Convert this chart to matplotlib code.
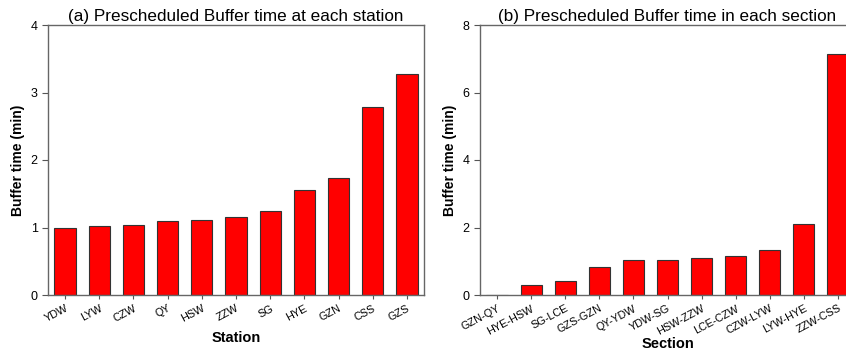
import matplotlib.pyplot as plt
import numpy as np

plt.rcParams['font.family'] = ['Liberation Sans', 'DejaVu Sans']

stations = ['YDW', 'LYW', 'CZW', 'QY', 'HSW', 'ZZW', 'SG', 'HYE', 'GZN', 'CSS', 'GZS']
station_buf = [1.00, 1.02, 1.03, 1.10, 1.11, 1.15, 1.24, 1.56, 1.74, 2.79, 3.27]

sections = ['GZN-QY', 'HYE-HSW', 'SG-LCE', 'GZS-GZN', 'QY-YDW', 'YDW-SG',
            'HSW-ZZW', 'LCE-CZW', 'CZW-LYW', 'LYW-HYE', 'ZZW-CSS']
section_buf = [0.0, 0.29, 0.42, 0.83, 1.03, 1.04, 1.11, 1.15, 1.32, 2.10, 7.13]

fig = plt.figure(figsize=(8.46, 3.52), dpi=100)
W, H = 846, 352
ax1 = fig.add_axes([48 / W, 57 / H, 376 / W, 270 / H])
ax2 = fig.add_axes([480 / W, 57 / H, 375 / W, 270 / H])


def panel(ax, labels, vals, ymax, title, xlabel, lpad):
    x = np.arange(len(labels))
    ax.bar(x, vals, width=0.62, color='#ff0000', edgecolor='#333333', linewidth=0.8)
    ax.set_xlim(-0.5, len(labels) - 0.5)
    ax.set_ylim(0, ymax)
    ax.set_xticks(x)
    ax.set_xticklabels(labels, rotation=28, ha='right', rotation_mode='anchor', fontsize=7.8)
    ax.tick_params(axis='x', length=3, pad=3, color='#555555')
    ax.tick_params(axis='y', length=4, labelsize=9, color='#555555')
    for s in ax.spines.values():
        s.set_color('#666666')
        s.set_linewidth(1.0)
    ax.set_title(title, fontsize=12.3, pad=3)
    ax.set_ylabel('Buffer time (min)', fontsize=10, fontweight='bold')
    ax.set_xlabel(xlabel, fontsize=10.5, fontweight='bold', labelpad=lpad)


panel(ax1, stations, station_buf, 4, '(a) Prescheduled Buffer time at each station', 'Station', 5)
ax1.set_yticks([0, 1, 2, 3, 4])
panel(ax2, sections, section_buf, 8, '(b) Prescheduled Buffer time in each section', 'Section', 0)
ax2.set_yticks([0, 2, 4, 6, 8])

fig.savefig('out.png', dpi=100)
